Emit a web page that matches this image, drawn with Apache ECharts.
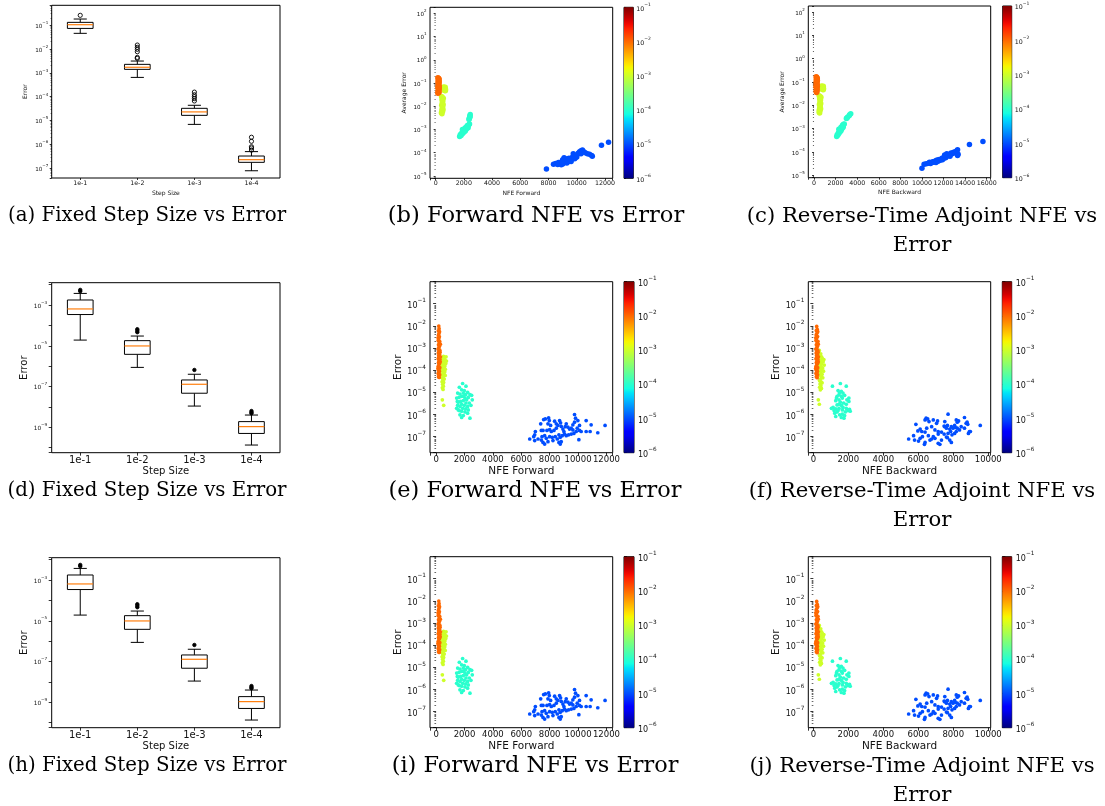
<!DOCTYPE html>
<html>
<head>
<meta charset="utf-8">
<script src="https://cdn.jsdelivr.net/npm/echarts@6/dist/echarts.min.js"></script>
<style>
html,body{margin:0;padding:0;background:#fff}
#chart{width:1105px;height:806px}
</style>
</head>
<body>
<div id="chart"></div>
<script>
// ---------------- data ----------------
const stepSizes = ['1e-1', '1e-2', '1e-3', '1e-4'];
const tolerances = [1e-5, 1e-4, 1e-3, 1e-2];   // drawing order: smallest first
const cbarTicks = [1e-6, 1e-5, 1e-4, 1e-3, 1e-2, 1e-1];

// fixed-step error distributions, first row: [whisker low, Q1, median, Q3, whisker high]
const boxTop = [
  [0.0448, 0.072, 0.103, 0.129, 0.178],
  [6.4e-4, 1.39e-3, 1.7e-3, 2.25e-3, 3.1e-3],
  [6.9e-6, 1.65e-5, 2.3e-5, 3.25e-5, 4.35e-5],
  [7.9e-8, 1.78e-7, 2.3e-7, 3.27e-7, 5.0e-7]
];
const fliersTop = [
  [0.254],
  [4.0e-3, 4.4e-3, 7.6e-3, 9.6e-3, 1.16e-2, 1.45e-2],
  [6.6e-5, 8.3e-5, 1.0e-4, 1.2e-4, 1.55e-4],
  [5.8e-7, 7.1e-7, 8.0e-7, 1.35e-6, 2.0e-6]
];
// second and third rows
const boxLow = [
  [1.9e-5, 3.4e-4, 6.4e-4, 1.76e-3, 3.7e-3],
  [8.7e-7, 3.8e-6, 9.8e-6, 1.78e-5, 3.0e-5],
  [1.1e-8, 4.7e-8, 1.29e-7, 2.1e-7, 4.0e-7],
  [1.35e-10, 5.0e-10, 1.08e-9, 1.9e-9, 4.0e-9]
];
const fliersLow = [
  [4.7e-3, 5.5e-3],
  [4.6e-5, 5.5e-5, 6.5e-5],
  [6.5e-7],
  [4.8e-9, 5.4e-9, 6.3e-9]
];

// adaptive solver runs, first row: [NFE, average error] per tolerance
const fwdTop_tol2 = [[160,0.17],[200,0.16],[240,0.15],[180,0.13],[220,0.12],[250,0.11],[170,0.10],[210,0.095],[240,0.085],[190,0.08],[230,0.072],[160,0.066],[200,0.06],[250,0.055],[180,0.05],[220,0.046],[170,0.042],[240,0.04],[200,0.038],[160,0.036],[230,0.14],[190,0.11],[210,0.07],[250,0.065]];
const fwdTop_tol3 = [[560,0.068],[620,0.064],[680,0.066],[600,0.058],[650,0.055],[700,0.052],[580,0.05],[640,0.048],[690,0.047],[420,0.026],[480,0.024],[540,0.022],[450,0.019],[510,0.017],[470,0.014],[530,0.012],[430,0.011],[500,0.0095],[460,0.008],[520,0.0072],[440,0.0065],[490,0.006],[410,0.0052],[450,0.0047]];
const fwdTop_tol4 = [[1700,5.0e-4],[1750,6.0e-4],[1800,5.5e-4],[1850,7.0e-4],[1900,6.5e-4],[1950,8.0e-4],[2000,9.0e-4],[1900,1.0e-3],[2050,1.05e-3],[2100,1.2e-3],[2000,7.5e-4],[2150,1.0e-3],[2200,1.3e-3],[2250,1.5e-3],[2300,1.4e-3],[2350,1.6e-3],[2100,8.5e-4],[2200,1.1e-3],[2300,1.2e-3],[2400,1.7e-3],[2360,2.7e-3],[2400,3.2e-3],[2420,3.8e-3],[2450,4.4e-3],[2380,2.9e-3],[2440,3.5e-3]];
const fwdTop_tol5 = [[7850,2.0e-5],[8350,3.2e-5],[8500,3.4e-5],[8650,3.1e-5],[8800,3.5e-5],[8900,3.0e-5],[9000,3.3e-5],[8700,3.8e-5],[9100,3.7e-5],[9200,4.0e-5],[9300,3.6e-5],[9400,4.2e-5],[9500,4.5e-5],[9200,5.2e-5],[9100,6.0e-5],[9000,5.0e-5],[9350,5.5e-5],[9600,5.0e-5],[9700,6.5e-5],[9800,7.5e-5],[9900,6.0e-5],[10000,8.0e-5],[9750,9.0e-5],[10100,9.5e-5],[10200,1.1e-4],[10300,1.2e-4],[10400,1.3e-4],[10500,1.1e-4],[10300,9.0e-5],[10000,6.5e-5],[9600,4.2e-5],[10600,1.0e-4],[10750,9.0e-5],[10900,8.5e-5],[11050,7.5e-5],[11100,7.0e-5],[9450,5.8e-5],[8950,4.2e-5],[9850,5.5e-5],[11750,2.1e-4],[12250,2.8e-4]];

const bwdTop_tol2 = [[200,0.17],[240,0.16],[280,0.15],[210,0.13],[260,0.12],[300,0.11],[190,0.10],[240,0.095],[290,0.085],[210,0.08],[270,0.072],[300,0.066],[200,0.06],[250,0.055],[290,0.05],[220,0.046],[270,0.042],[200,0.04],[260,0.038],[230,0.036],[300,0.14],[310,0.12],[300,0.07],[190,0.065]];
const bwdTop_tol3 = [[700,0.068],[780,0.064],[860,0.066],[740,0.058],[820,0.055],[880,0.052],[720,0.05],[800,0.048],[860,0.047],[480,0.026],[560,0.024],[640,0.022],[520,0.019],[600,0.017],[540,0.014],[620,0.012],[500,0.011],[580,0.0095],[530,0.008],[610,0.0072],[490,0.0065],[560,0.006],[470,0.0052],[520,0.0047]];
const bwdTop_tol4 = [[2100,4.6e-4],[2150,5.5e-4],[2200,5.2e-4],[2250,6.5e-4],[2300,6.2e-4],[2350,7.5e-4],[2400,8.5e-4],[2300,9.5e-4],[2450,1.0e-3],[2500,1.15e-3],[2400,7.2e-4],[2550,9.5e-4],[2600,1.25e-3],[2650,1.45e-3],[2700,1.35e-3],[2750,1.55e-3],[2500,8.2e-4],[2600,1.05e-3],[2700,1.15e-3],[2800,1.6e-3],[3000,2.7e-3],[3100,3.1e-3],[3250,3.6e-3],[3400,4.4e-3],[3050,2.9e-3],[3300,4.0e-3]];
const bwdTop_tol5 = [[10000,2.0e-5],[10200,3.0e-5],[10400,3.1e-5],[10600,3.3e-5],[10800,3.2e-5],[10700,3.6e-5],[10900,3.5e-5],[11000,3.8e-5],[11200,4.0e-5],[11100,3.6e-5],[11300,4.2e-5],[11500,4.0e-5],[11400,4.5e-5],[11600,4.8e-5],[11700,4.4e-5],[11800,5.0e-5],[11900,5.5e-5],[12000,5.2e-5],[12100,6.0e-5],[12200,5.6e-5],[12300,6.5e-5],[12400,7.0e-5],[12300,8.5e-5],[12500,7.5e-5],[12600,8.0e-5],[12700,9.0e-5],[12800,8.5e-5],[12900,9.5e-5],[13000,1.0e-4],[13100,9.0e-5],[13200,1.1e-4],[13300,1.25e-4],[13350,8.0e-5],[13300,7.0e-5],[12600,6.5e-5],[11900,4.6e-5],[11300,3.5e-5],[12100,7.5e-5],[14400,2.1e-4],[15650,2.8e-4]];

// second and third rows: [NFE, error] per tolerance
const fwdLow_tol2 = [[190,9.8e-3],[210,7.5e-3],[160,6.0e-3],[240,5.5e-3],[200,4.5e-3],[170,3.8e-3],[230,3.2e-3],[190,2.6e-3],[150,2.2e-3],[250,2.0e-3],[210,1.7e-3],[170,1.4e-3],[230,1.2e-3],[190,1.0e-3],[140,9.0e-4],[260,8.0e-4],[200,7.0e-4],[160,6.0e-4],[240,5.2e-4],[180,4.5e-4],[220,3.8e-4],[150,3.3e-4],[270,3.0e-4],[200,2.6e-4],[170,2.2e-4],[240,2.0e-4],[190,1.7e-4],[150,1.5e-4],[260,1.3e-4],[210,1.15e-4],[170,1.0e-4],[230,9.0e-5],[190,8.0e-5],[150,7.0e-5],[250,6.3e-5],[200,5.6e-5],[170,5.0e-5],[220,4.7e-5],[300,1.5e-3],[310,4.0e-4],[140,2.9e-3],[280,6.5e-4],[130,1.2e-4],[290,2.4e-4]];
const fwdLow_tol3 = [[520,4.2e-4],[600,3.8e-4],[450,3.4e-4],[560,3.0e-4],[640,2.8e-4],[500,2.6e-4],[420,2.3e-4],[580,2.1e-4],[680,2.0e-4],[470,1.8e-4],[540,1.7e-4],[620,1.55e-4],[390,1.4e-4],[500,1.3e-4],[580,1.2e-4],[650,1.1e-4],[440,1.0e-4],[530,9.0e-5],[610,8.5e-5],[470,7.5e-5],[560,6.8e-5],[400,6.0e-5],[640,5.8e-5],[500,5.0e-5],[450,4.3e-5],[570,4.0e-5],[480,3.4e-5],[420,3.0e-5],[530,2.8e-5],[460,2.3e-5],[510,1.9e-5],[440,1.6e-5],[490,1.35e-5],[700,4.0e-4],[360,1.9e-4],[730,2.6e-4],[440,4.6e-6],[535,2.6e-6]];
const fwdLow_tol4 = [[1869,2.5e-5],[2103,1.9e-5],[1635,1.7e-5],[1799,1.3e-5],[1986,1.2e-5],[2220,1.0e-5],[2384,7.8e-6],[2501,7.3e-6],[1518,9.3e-6],[1682,8.4e-6],[1916,9.3e-6],[2080,7.8e-6],[1799,6.6e-6],[1612,5.9e-6],[1448,5.5e-6],[2033,5.5e-6],[2267,5.9e-6],[2150,4.6e-6],[1916,4.2e-6],[1729,3.9e-6],[1565,3.6e-6],[2337,3.3e-6],[2103,3.3e-6],[1799,2.9e-6],[1986,2.6e-6],[2220,2.3e-6],[1518,2.6e-6],[1682,2.3e-6],[1448,1.9e-6],[1869,1.9e-6],[2080,1.8e-6],[2267,1.6e-6],[1635,1.5e-6],[1799,1.4e-6],[2033,1.3e-6],[2220,1.15e-6],[1682,9.6e-7],[1916,9.0e-7],[2384,6.8e-7],[1799,7.3e-7],[1565,1.6e-6],[2454,2.6e-6],[2548,4.6e-6],[1495,3.9e-6],[1939,6.6e-6]];
const fwdLow_tol5 = [[7576,5.9e-7],[7693,6.3e-7],[7927,7.0e-7],[7974,5.3e-7],[7880,3.8e-7],[7366,3.8e-7],[8348,5.0e-7],[8699,5.3e-7],[9752,1.0e-6],[9822,6.8e-7],[9986,5.3e-7],[9635,3.4e-7],[9752,4.5e-7],[10570,5.3e-7],[10921,3.4e-7],[11903,3.2e-7],[10102,3.2e-7],[9939,2.4e-7],[10102,1.9e-7],[9284,2.7e-7],[9097,2.8e-7],[8816,2.9e-7],[8582,3.2e-7],[8465,2.4e-7],[8301,1.9e-7],[8114,1.7e-7],[7997,2.1e-7],[7810,1.9e-7],[7530,1.9e-7],[7413,1.9e-7],[6992,1.7e-7],[6945,1.2e-7],[6875,1.0e-7],[6594,7.8e-8],[6945,6.6e-8],[7459,1.0e-7],[7647,1.1e-7],[7763,8.4e-8],[7997,1.0e-7],[8184,9.3e-8],[8395,1.0e-7],[8652,1.2e-7],[8746,9.3e-8],[8886,1.1e-7],[9050,1.3e-7],[9167,1.1e-7],[9331,1.2e-7],[9518,1.3e-7],[9705,1.4e-7],[9869,1.7e-7],[10219,1.7e-7],[10570,1.7e-7],[10851,1.7e-7],[11389,1.5e-7],[7530,5.5e-8],[7647,4.6e-8],[7880,5.9e-8],[8231,6.6e-8],[8535,7.8e-8],[8652,5.5e-8],[8746,4.6e-8],[8816,5.9e-8],[10056,7.3e-8],[7413,7.0e-8],[7179,7.8e-8],[9401,2.2e-7],[9518,2.4e-7],[9635,2.0e-7],[8933,2.2e-7],[9003,1.7e-7],[8067,3.2e-7],[9167,3.8e-7],[8769,4.2e-7],[8465,3.8e-7]];

const bwdLow_tol2 = [[190,9.5e-3],[220,7.0e-3],[170,6.2e-3],[250,5.5e-3],[200,4.6e-3],[160,3.9e-3],[240,3.3e-3],[180,2.7e-3],[150,2.2e-3],[260,2.0e-3],[210,1.7e-3],[170,1.4e-3],[230,1.2e-3],[190,1.0e-3],[140,9.0e-4],[250,8.0e-4],[200,7.0e-4],[160,6.0e-4],[230,5.2e-4],[180,4.5e-4],[220,3.8e-4],[150,3.3e-4],[260,3.0e-4],[200,2.6e-4],[170,2.2e-4],[240,2.0e-4],[190,1.7e-4],[150,1.5e-4],[250,1.3e-4],[210,1.15e-4],[170,1.0e-4],[230,9.0e-5],[190,8.0e-5],[150,7.0e-5],[240,6.3e-5],[200,5.6e-5],[170,5.0e-5],[220,4.6e-5],[280,1.5e-3],[290,4.0e-4],[140,2.9e-3],[270,6.5e-4],[130,1.2e-4],[280,2.4e-4]];
const bwdLow_tol3 = [[340,7.8e-4],[420,5.5e-4],[380,4.5e-4],[470,4.0e-4],[600,3.0e-4],[520,3.3e-4],[350,3.0e-4],[440,2.7e-4],[560,2.4e-4],[400,2.1e-4],[480,1.9e-4],[620,1.7e-4],[360,1.6e-4],[450,1.4e-4],[530,1.25e-4],[390,1.1e-4],[470,1.0e-4],[580,9.0e-5],[340,8.5e-5],[420,7.5e-5],[500,6.5e-5],[380,5.8e-5],[460,5.0e-5],[540,4.5e-5],[400,4.0e-5],[350,3.4e-5],[440,3.0e-5],[500,2.7e-5],[380,2.4e-5],[430,2.0e-5],[360,1.7e-5],[460,1.5e-5],[400,1.3e-5],[284,4.6e-6],[340,2.9e-6]];
const bwdLow_tol4 = [[1542,2.5e-5],[1091,1.9e-5],[1880,1.9e-5],[1411,1.2e-5],[1505,1.0e-5],[1599,1.1e-5],[1692,9.3e-6],[1467,7.8e-6],[1354,6.6e-6],[1599,6.6e-6],[1786,7.3e-6],[1655,5.5e-6],[2030,5.5e-6],[2030,3.9e-6],[1467,4.6e-6],[1279,4.2e-6],[1542,3.6e-6],[1730,3.3e-6],[1880,2.9e-6],[1354,2.7e-6],[1599,2.6e-6],[1129,2.1e-6],[1279,1.8e-6],[1467,1.9e-6],[1692,2.1e-6],[1880,1.9e-6],[1974,1.5e-6],[2106,1.4e-6],[1223,1.15e-6],[1354,1.3e-6],[1505,9.6e-7],[1655,1.03e-6],[1411,1.5e-6],[1599,7.3e-7],[1749,6.8e-7],[1279,8.1e-7],[1035,1.9e-6],[1824,1.3e-6],[1918,4.6e-6],[1185,1.5e-6],[1467,2.9e-6],[1655,1.6e-6],[1786,9.0e-7],[1317,5.5e-6],[2068,1.7e-6]];
const bwdLow_tol5 = [[7702,1.03e-6],[8641,7.3e-7],[6444,6.8e-7],[6387,5.7e-7],[6538,6.3e-7],[6857,5.7e-7],[7101,5.1e-7],[6613,4.8e-7],[5862,3.6e-7],[7514,2.8e-7],[7665,3.2e-7],[8171,5.7e-7],[8228,4.5e-7],[8303,5.1e-7],[8735,4.0e-7],[8829,3.6e-7],[9542,3.2e-7],[7890,2.8e-7],[7984,2.4e-7],[8078,3.2e-7],[7796,2.2e-7],[7608,2.4e-7],[7477,3.0e-7],[6763,2.8e-7],[6481,2.4e-7],[6106,2.2e-7],[5974,1.8e-7],[6387,1.6e-7],[6951,2.0e-7],[7139,1.7e-7],[7326,1.6e-7],[7702,1.4e-7],[7927,1.2e-7],[8078,1.4e-7],[8359,2.0e-7],[8641,2.4e-7],[8923,1.7e-7],[8866,1.4e-7],[8979,1.7e-7],[8228,2.4e-7],[8453,2.8e-7],[5730,1.1e-7],[5448,7.8e-8],[5786,7.0e-8],[6106,8.4e-8],[6237,1.0e-7],[6575,1.1e-7],[6857,1.0e-7],[6763,7.8e-8],[6951,8.4e-8],[7139,1.3e-7],[7477,1.3e-7],[7608,9.6e-8],[7796,7.0e-8],[7890,5.5e-8],[7139,5.0e-8],[7233,4.5e-8],[6387,5.5e-8],[6350,4.5e-8],[6012,6.3e-8],[6669,7.0e-8],[7326,7.0e-8],[7665,9.0e-8],[8115,2.6e-7],[8791,4.5e-7],[7852,1.7e-7],[7514,4.8e-7],[7045,4.0e-7],[6200,1.7e-7],[8171,1.7e-7]];

// ---------------- drawing ----------------
const FONT = 'DejaVu Sans';
const INK = '#111';

// matplotlib "jet" colormap
function jet(t) {
  const f = pts => {
    for (let k = 1; k < pts.length; k++) {
      if (t <= pts[k][0]) {
        const a = pts[k - 1], b = pts[k];
        return a[1] + (b[1] - a[1]) * (t - a[0]) / (b[0] - a[0]);
      }
    }
    return pts[pts.length - 1][1];
  };
  const r = f([[0, 0], [0.35, 0], [0.66, 1], [0.89, 1], [1, 0.5]]);
  const g = f([[0, 0], [0.125, 0], [0.375, 1], [0.64, 1], [0.91, 0], [1, 0]]);
  const b = f([[0, 0.5], [0.11, 1], [0.34, 1], [0.65, 0], [1, 0]]);
  return 'rgb(' + Math.round(r * 255) + ',' + Math.round(g * 255) + ',' + Math.round(b * 255) + ')';
}
const cbMin = cbarTicks[0], cbMax = cbarTicks[cbarTicks.length - 1];
const tolColor = tol => jet((Math.log10(tol) - Math.log10(cbMin)) / (Math.log10(cbMax) - Math.log10(cbMin)));
const jetStops = [];
for (let k = 0; k <= 40; k++) jetStops.push({ offset: k / 40, color: jet(k / 40) });

const grids = [], xAxes = [], yAxes = [], series = [], graphics = [];

function addGrid(left, top, width, height) {
  grids.push({ left, top, width, height, show: true, borderColor: '#000', borderWidth: 1, backgroundColor: '#fff', containLabel: false });
  return grids.length - 1;
}

function powLabel(v, oddOnly) {
  const e = Math.log10(v), r = Math.round(e);
  if (Math.abs(e - r) > 1e-6) return '';
  if (oddOnly && Math.abs(r % 2) !== 1) return '';
  return '{b|10}{s|' + (r < 0 ? '\u2212' + (-r) : String(r)) + '}';
}
function powRich(fs) {
  return {
    b: { fontSize: fs, lineHeight: fs * 1.5, verticalAlign: 'bottom', fontFamily: FONT, color: INK },
    s: { fontSize: fs * 0.72, lineHeight: fs * 0.75, verticalAlign: 'top', fontFamily: FONT, color: INK }
  };
}

function logYAxis(gi, min, max, o) {
  yAxes.push({
    type: 'log', logBase: 10, gridIndex: gi, min, max, position: o.right ? 'right' : 'left',
    axisLine: { show: false }, splitLine: { show: false },
    axisTick: { show: true, length: o.tick, lineStyle: { color: '#000', width: 0.8 } },
    minorTick: { show: !!o.minor, splitNumber: 9, length: o.tick * 0.55, lineStyle: { color: '#000', width: 0.6 } },
    axisLabel: { margin: o.margin, formatter: v => powLabel(v, o.oddOnly), rich: powRich(o.fs) },
    name: o.name || '', nameLocation: 'middle', nameGap: o.nameGap || 0,
    nameTextStyle: { fontSize: o.nameFs || 10, color: INK, fontFamily: FONT }
  });
  return yAxes.length - 1;
}

function boxRender(params, api) {
  const i = api.value(0);
  const y = k => api.coord([i, api.value(k)])[1];
  const x = api.coord([i, api.value(3)])[0];
  const band = Math.abs(api.coord([1, api.value(3)])[0] - api.coord([0, api.value(3)])[0]);
  const bw = band * 0.45, cw = band * 0.23;
  const seg = (x1, y1, x2, y2, c, w) => ({ type: 'line', shape: { x1, y1, x2, y2 }, style: { stroke: c || '#000', lineWidth: w || 1 } });
  const lo = y(1), q1 = y(2), md = y(3), q3 = y(4), hi = y(5);
  return {
    type: 'group', children: [
      seg(x, lo, x, q1), seg(x, q3, x, hi),
      seg(x - cw / 2, lo, x + cw / 2, lo), seg(x - cw / 2, hi, x + cw / 2, hi),
      { type: 'rect', shape: { x: x - bw / 2, y: q3, width: bw, height: q1 - q3 }, style: { fill: '#fff', stroke: '#000', lineWidth: 1 } },
      seg(x - bw / 2, md, x + bw / 2, md, '#ff7f0e', 1.2)
    ]
  };
}

function boxPanel(g, stats, fliers, o) {
  const gi = addGrid(g[0], g[1], g[2], g[3]);
  xAxes.push({
    type: 'category', gridIndex: gi, data: stepSizes, boundaryGap: true,
    axisLine: { show: false }, splitLine: { show: false },
    axisTick: { show: true, alignWithLabel: true, length: o.tick, lineStyle: { color: '#000', width: 0.8 } },
    axisLabel: { fontSize: o.xfs, color: INK, margin: o.xmargin, fontFamily: FONT },
    name: 'Step Size', nameLocation: 'middle', nameGap: o.xNameGap,
    nameTextStyle: { fontSize: o.nameFs, color: INK, fontFamily: FONT }
  });
  const xi = xAxes.length - 1;
  const yi = logYAxis(gi, o.ymin, o.ymax, { tick: o.tick, minor: o.minor, margin: o.ymargin, oddOnly: o.oddOnly, fs: o.yfs, name: 'Error', nameGap: o.yNameGap, nameFs: o.nameFs });
  series.push({
    type: 'custom', xAxisIndex: xi, yAxisIndex: yi, renderItem: boxRender, silent: true,
    encode: { x: 0, y: [1, 2, 3, 4, 5] },
    data: stats.map((s, i) => [i].concat(s))
  });
  const pts = [];
  fliers.forEach((list, i) => list.forEach(v => pts.push([i, v])));
  series.push({
    type: 'scatter', xAxisIndex: xi, yAxisIndex: yi, silent: true, data: pts,
    symbol: 'circle', symbolSize: o.flierSize,
    itemStyle: { color: o.flierFill, borderColor: '#000', borderWidth: 0.9, opacity: 1 }
  });
}

function scatterPanel(g, cb, sets, o) {
  const gi = addGrid(g[0], g[1], g[2], g[3]);
  xAxes.push({
    type: 'value', gridIndex: gi, min: o.xmin, max: o.xmax, splitNumber: o.splitNumber,
    axisLine: { show: false }, splitLine: { show: false },
    axisTick: { show: true, length: o.tick, lineStyle: { color: '#000', width: 0.8 } },
    axisLabel: { fontSize: o.xfs, color: INK, margin: o.xmargin, fontFamily: FONT, formatter: v => (Math.abs(v % 2000) < 1e-6 ? String(v) : '') },
    name: o.xName, nameLocation: 'middle', nameGap: o.xNameGap,
    nameTextStyle: { fontSize: o.nameFs, color: INK, fontFamily: FONT }
  });
  const xi = xAxes.length - 1;
  const yi = logYAxis(gi, o.ymin, o.ymax, { tick: o.tick, minor: true, margin: o.ymargin, fs: o.yfs, name: o.yName, nameGap: o.yNameGap, nameFs: o.nameFs });
  sets.forEach((pts, k) => {
    series.push({
      type: 'scatter', xAxisIndex: xi, yAxisIndex: yi, silent: true, data: pts,
      symbol: 'circle', symbolSize: o.dot, itemStyle: { color: tolColor(tolerances[k]), opacity: 1 }
    });
  });
  // colour bar
  const ci = addGrid(cb[0], cb[1], cb[2], cb[3]);
  xAxes.push({ type: 'value', gridIndex: ci, min: 0, max: 1, show: false });
  const cxi = xAxes.length - 1;
  const cyi = logYAxis(ci, cbMin, cbMax, { right: true, tick: o.tick, minor: false, margin: o.cbmargin, fs: o.cbfs });
  series.push({
    type: 'custom', xAxisIndex: cxi, yAxisIndex: cyi, silent: true,
    encode: { x: 0, y: [1, 2] },
    data: [[0, cbMin, cbMax]],
    renderItem: (params, api) => {
      const p0 = api.coord([0, api.value(1)]), p1 = api.coord([1, api.value(2)]);
      return {
        type: 'rect', shape: { x: p0[0], y: p1[1], width: p1[0] - p0[0], height: p0[1] - p1[1] },
        style: { fill: new echarts.graphic.LinearGradient(0, 1, 0, 0, jetStops) }
      };
    }
  });
}

function caption(lines, cx, cy, fs) {
  lines.forEach((t, k) => graphics.push({
    type: 'text', x: cx, y: cy + k * 29, silent: true,
    style: { text: t, font: fs + 'px "DejaVu Serif"', fill: '#000', align: 'center', verticalAlign: 'middle', textAlign: 'center', textVerticalAlign: 'middle' }
  }));
}

// ---- first row ----
const smallStyle = { tick: 2, xfs: 6.3, yfs: 5.6, nameFs: 6, xmargin: 2.5, ymargin: 3.5 };
boxPanel([51.7, 5.3, 228.3, 172.7], boxTop, fliersTop, Object.assign({}, smallStyle, {
  ymin: 3.93e-8, ymax: 0.668, minor: true, oddOnly: false, xNameGap: 12, yNameGap: 23, flierSize: 4.2, flierFill: 'rgba(255,255,255,0)'
}));
const topScatter = Object.assign({}, smallStyle, { ymin: 7.9e-6, ymax: 182, dot: 5.5, cbfs: 6.3, cbmargin: 3, xNameGap: 12, yNameGap: 23, yName: 'Average Error' });
scatterPanel([430, 7.3, 182.7, 171], [624, 7.3, 9.3, 171], [fwdTop_tol5, fwdTop_tol4, fwdTop_tol3, fwdTop_tol2],
  Object.assign({}, topScatter, { xmin: -400, xmax: 12545, splitNumber: 6, xName: 'NFE Forward' }));
scatterPanel([808.3, 6, 182.4, 171.7], [1002.7, 6, 9, 171.7], [bwdTop_tol5, bwdTop_tol4, bwdTop_tol3, bwdTop_tol2],
  Object.assign({}, topScatter, { xmin: -530, xmax: 16370, splitNumber: 8, xName: 'NFE Backward' }));
caption(['(a) Fixed Step Size vs Error'], 147, 216, 19.8);
caption(['(b) Forward NFE vs Error'], 536, 216, 22.6);
caption(['(c) Reverse-Time Adjoint NFE vs', 'Error'], 922, 216, 21.2);

// ---- second and third rows ----
const lowerRows = [
  { dy: 0, cap: ['d', 'e', 'f'] },
  { dy: 275, cap: ['h', 'i', 'j'] }
];
lowerRows.forEach(row => {
  const d = row.dy;
  boxPanel([51.7, 282.7 + d, 228.3, 170], boxLow, fliersLow, {
    tick: 3, xfs: 10, yfs: 5.8, nameFs: 10, xmargin: 3, ymargin: 4.5,
    ymin: 5.68e-11, ymax: 1.24e-2, minor: false, oddOnly: true, xNameGap: 12, yNameGap: 17, flierSize: 3.4, flierFill: '#000'
  });
  const lowScatter = { tick: 3, xfs: 8.5, yfs: 8, nameFs: 10.5, xmargin: 3, ymargin: 4, ymin: 1.88e-8, ymax: 0.99, dot: 3.7, cbfs: 8, cbmargin: 4, xNameGap: 9, yNameGap: 17, yName: 'Error' };
  scatterPanel([430, 281.7 + d, 182.7, 171], [624, 281.7 + d, 10, 171], [fwdLow_tol5, fwdLow_tol4, fwdLow_tol3, fwdLow_tol2],
    Object.assign({}, lowScatter, { xmin: -430, xmax: 12440, splitNumber: 6, xName: 'NFE Forward' }));
  scatterPanel([808.3, 281.7 + d, 182.4, 171], [1002.3, 281.7 + d, 9.4, 171], [bwdLow_tol5, bwdLow_tol4, bwdLow_tol3, bwdLow_tol2],
    Object.assign({}, lowScatter, { xmin: -290, xmax: 10140, splitNumber: 5, xName: 'NFE Backward' }));
  caption(['(' + row.cap[0] + ') Fixed Step Size vs Error'], 147, 491 + d, 19.8);
  caption(['(' + row.cap[1] + ') Forward NFE vs Error'], 535, 491 + d, 22.4);
  caption(['(' + row.cap[2] + ') Reverse-Time Adjoint NFE vs', 'Error'], 922, 491 + d, 21.2);
});

const chart = echarts.init(document.getElementById('chart'), null, { renderer: 'canvas' });
chart.setOption({
  animation: false,
  backgroundColor: '#fff',
  textStyle: { fontFamily: FONT },
  grid: grids, xAxis: xAxes, yAxis: yAxes, series: series,
  graphic: { elements: graphics }
});
</script>
</body>
</html>
